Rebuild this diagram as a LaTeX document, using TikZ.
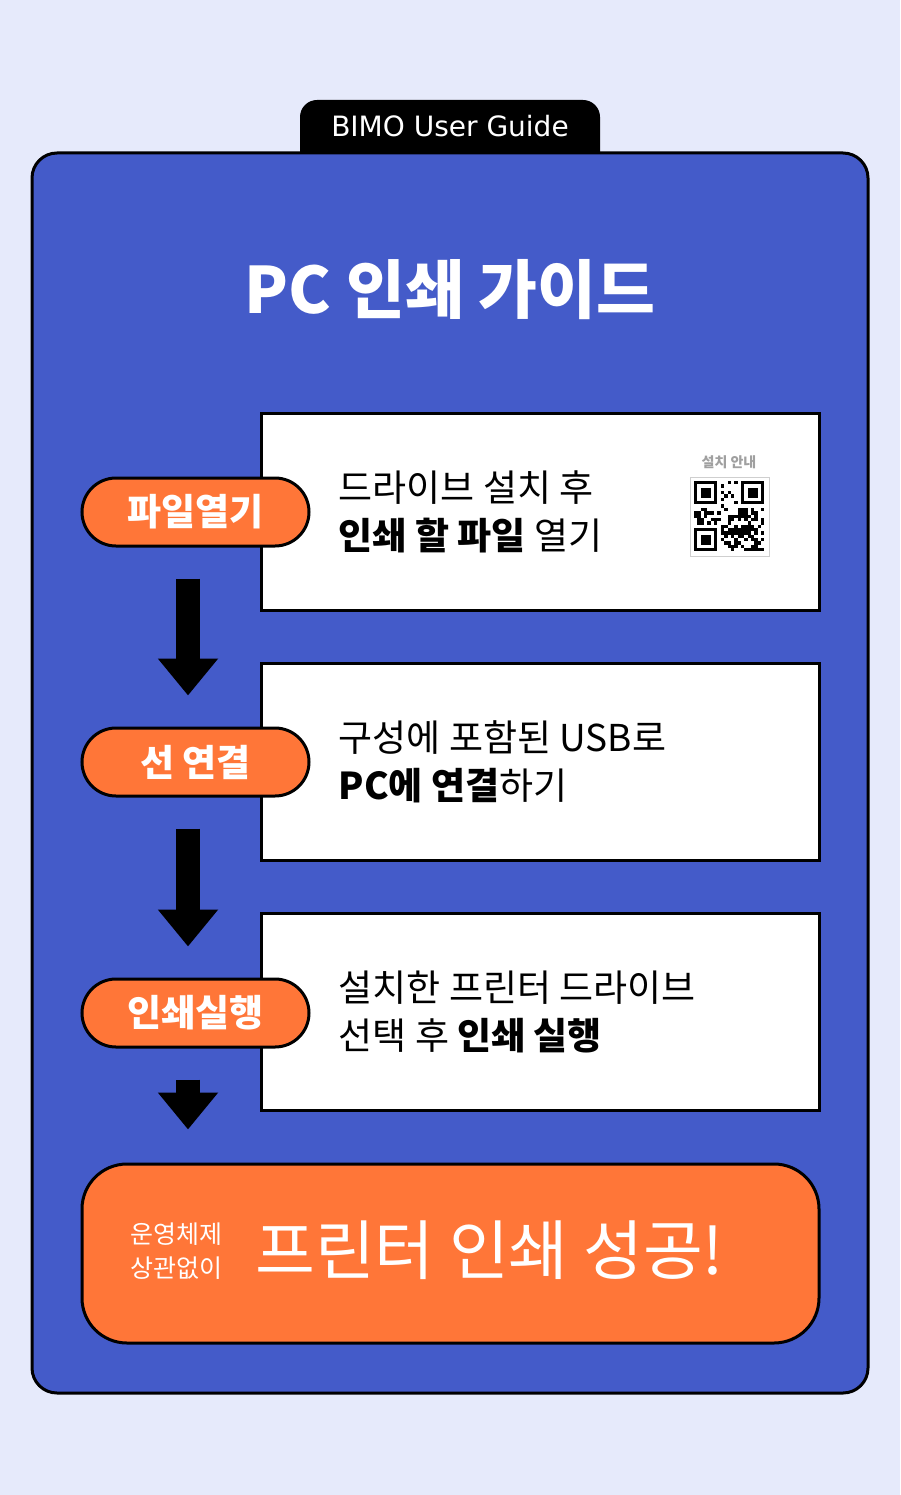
\documentclass[tikz,border=0pt]{standalone}
\usepackage{fontspec}
\setmainfont{Noto Sans CJK KR}
\newfontfamily\tabfont{DejaVu Sans}
\usetikzlibrary{arrows.meta,positioning}

\definecolor{pagebg}{HTML}{E6EAFB}
\definecolor{guideblue}{HTML}{445BC9}
\definecolor{bimoorange}{HTML}{FF7638}
\definecolor{qrgray}{HTML}{A0A0A0}

\begin{document}
\begin{tikzpicture}[
  x=1pt, y=-1pt,
  stepbox/.style={draw, line width=3pt, fill=white, minimum width=558pt, minimum height=197pt, inner sep=0pt},
  steptext/.style={anchor=west, align=left, inner sep=0pt, font=\fontsize{37}{48}\selectfont},
  pill/.style={draw, line width=3pt, fill=bimoorange, rounded corners=34pt, minimum width=227pt, minimum height=68pt,
    text=white, font=\fontsize{37}{37}\selectfont\bfseries},
  flow/.style={-{Triangle[width=58pt,length=37pt]}, line width=24pt, shorten <=31pt, shorten >=31pt}
]

% page and frame
\fill[pagebg] (0,0) rectangle (900,1495);
\fill[black, rounded corners=17pt] (300,170) -- (300,100) -- (600,100) -- (600,170) -- cycle;
\node[text=white, font=\tabfont\fontsize{28}{28}\selectfont] (tab) at (450,126) {BIMO User Guide};
\draw[line width=3pt, fill=guideblue, rounded corners=25pt] (32,153) rectangle (868,1393);

\node[text=white, font=\fontsize{64}{64}\selectfont\bfseries] (title) at (450,290) {PC 인쇄 가이드};

% steps
\node[stepbox] (box1) at (540,511.5) {};
\node[stepbox] (box2) at (540,761.5) {};
\node[stepbox] (box3) at (540,1012) {};

\node[steptext] (txt1) at ([xshift=79pt]box1.west) {드라이브 설치 후\\\textbf{인쇄 할 파일} 열기};
\node[steptext] (txt2) at ([xshift=79pt]box2.west) {구성에 포함된 USB로\\\textbf{PC에 연결}하기};
\node[steptext] (txt3) at ([xshift=79pt]box3.west) {설치한 프린터 드라이브\\선택 후 \textbf{인쇄 실행}};

% qr code
\node[text=qrgray, font=\fontsize{14}{14}\selectfont\bfseries] (qrlab) at (729,462) {설치 안내};
\node[draw=qrgray!50, line width=1pt, fill=white, minimum size=79pt, inner sep=0pt] (qr) at (729.5,516.5) {};
\begin{scope}[shift={(qr.north west)}]
  \pgfmathsetseed{17}
  \foreach \i in {0,...,20}{
    \foreach \j in {0,...,20}{
      \pgfmathtruncatemacro{\infinder}{(\i<8 && \j<8) || (\i>12 && \j<8) || (\i<8 && \j>12)}
      \pgfmathtruncatemacro{\bit}{rnd<0.5}
      \ifnum\infinder=0 \ifnum\bit=1
        \fill (4.5+\i*3.35,4.5+\j*3.35) rectangle ++(3.35,3.35);
      \fi\fi
    }
  }
  \foreach \fx/\fy in {0/0, 14/0, 0/14}{
    \fill (4.5+\fx*3.35,4.5+\fy*3.35) rectangle ++(23.45,23.45);
    \fill[white] (4.5+\fx*3.35+3.35,4.5+\fy*3.35+3.35) rectangle ++(16.75,16.75);
    \fill (4.5+\fx*3.35+6.7,4.5+\fy*3.35+6.7) rectangle ++(10.05,10.05);
  }
\end{scope}

\node[pill] (pill1) at (195.5,512) {파일열기};
\node[pill] (pill2) at (195.5,762) {선 연결};
\node[pill] (pill3) at (195.5,1013) {인쇄실행};

% result
\node[draw, line width=3pt, fill=bimoorange, rounded corners=45pt, minimum width=737pt, minimum height=179pt] (done) at (450.5,1253.5) {};
\node[text=white, align=center, font=\fontsize{25}{34}\selectfont] (os) at (176,1251) {운영체제\\상관없이};
\node[text=white, anchor=west, inner sep=0pt, font=\fontsize{65}{65}\selectfont] (ok) at (255,1250) {프린터 인쇄 성공!};

% arrows
\coordinate (ax) at (188,0);
\draw[flow] (pill1.south -| ax) -- (pill2.north -| ax);
\draw[flow] (pill2.south -| ax) -- (pill3.north -| ax);
\draw[flow, shorten >=33pt] (pill3.south -| ax) -- (done.north -| ax);

\end{tikzpicture}
\end{document}
